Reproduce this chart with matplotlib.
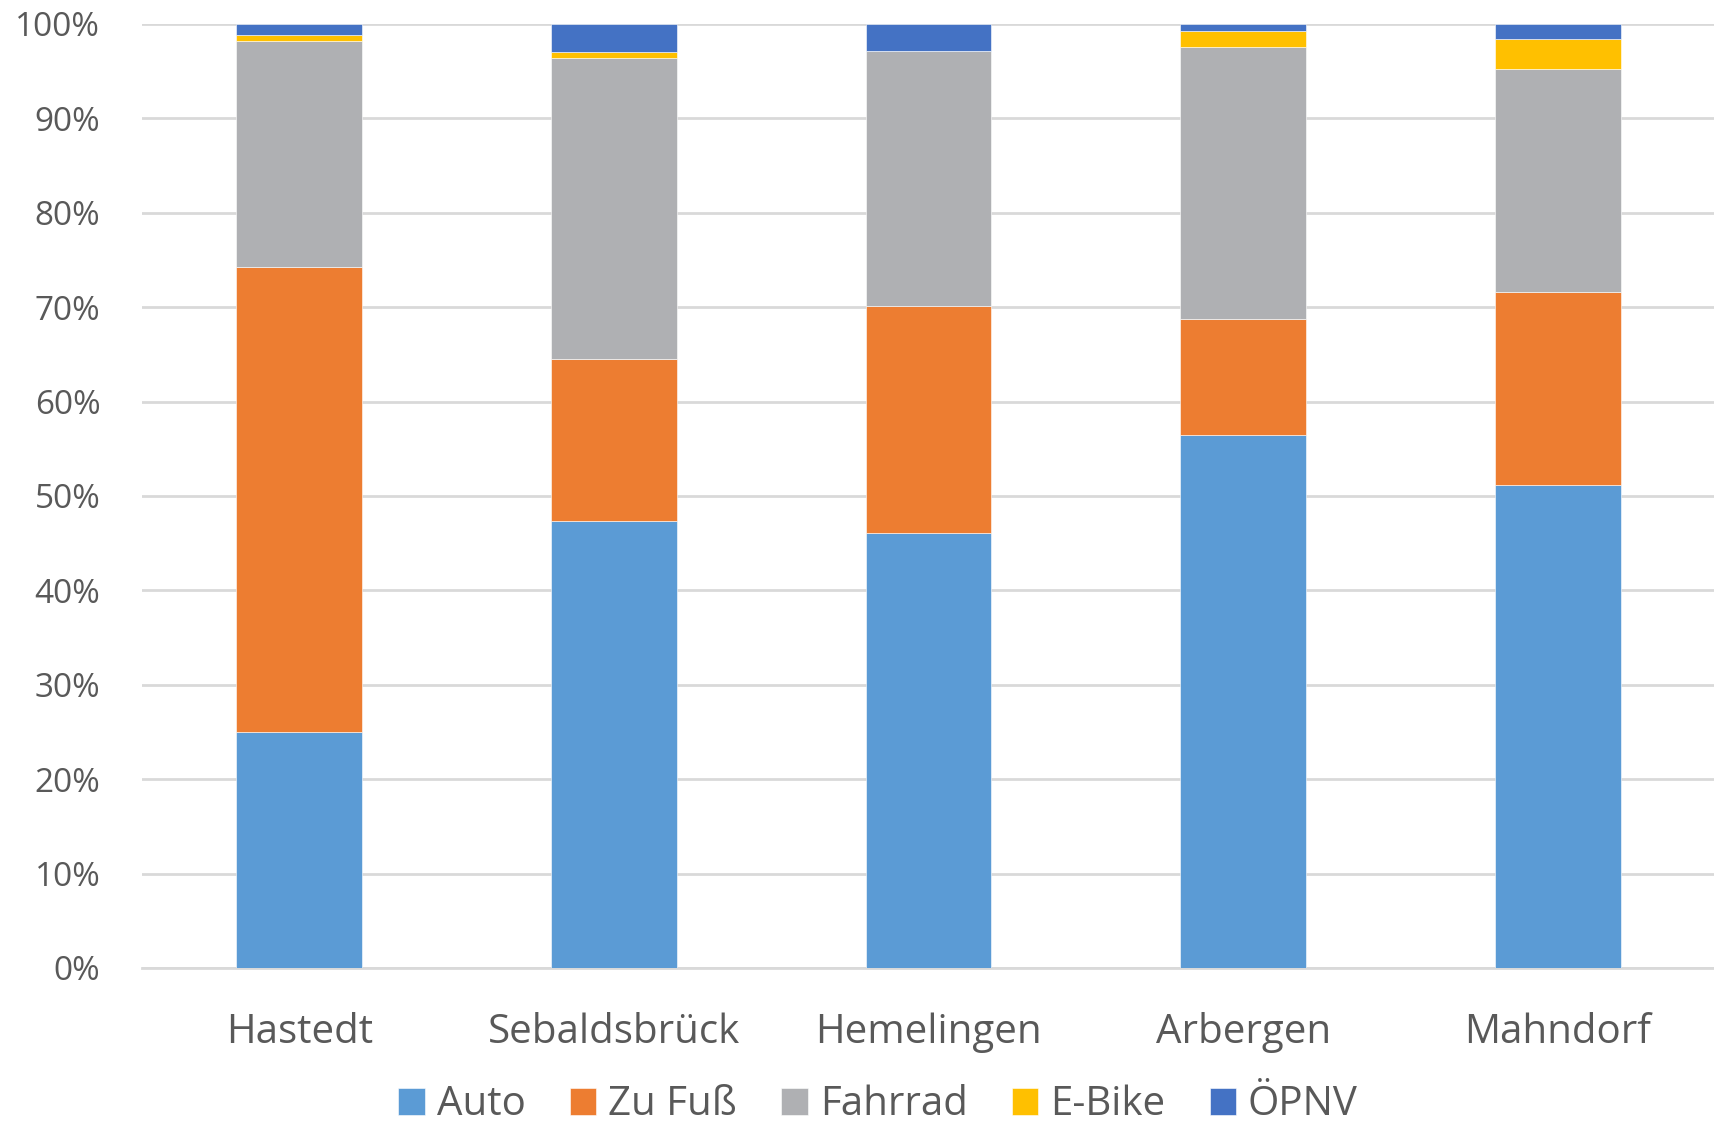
import matplotlib
matplotlib.use("Agg")
import matplotlib.pyplot as plt
import numpy as np
from matplotlib.ticker import FuncFormatter

plt.rcParams['font.family'] = ['Open Sans', 'DejaVu Sans']

districts = ["Hastedt", "Sebaldsbrück", "Hemelingen", "Arbergen", "Mahndorf"]
modes = ["Auto", "Zu Fuß", "Fahrrad", "E-Bike", "ÖPNV"]

auto = [25.0, 47.3, 46.1, 56.5, 51.2]
zu_fuss = [49.3, 17.2, 24.0, 12.2, 20.4]
fahrrad = [23.9, 31.9, 27.0, 28.9, 23.6]
e_bike = [0.6, 0.6, 0.0, 1.7, 3.2]
oepnv = [1.2, 3.0, 2.9, 0.7, 1.6]

colors = ["#5B9BD5", "#ED7D31", "#AFB0B3", "#FFC000", "#4472C4"]
text_color = "#595959"
grid_color = "#D9D9D9"

series = [auto, zu_fuss, fahrrad, e_bike, oepnv]

fig = plt.figure(figsize=(17.15, 11.30), dpi=100)
ax = fig.add_axes([142 / 1715, 1 - 968 / 1130, (1715 - 142) / 1715, (968 - 24) / 1130])

x = np.arange(len(districts))
bottom = np.zeros(len(districts))
for name, vals, col in zip(modes, series, colors):
    vals = np.array(vals, dtype=float)
    ax.bar(x, vals, width=0.4, bottom=bottom, color=col, label=name,
           edgecolor="white", linewidth=0.4, zorder=3)
    bottom += vals

ax.set_xlim(-0.5, 4.5)
ax.set_ylim(0, 100)
ax.set_yticks(np.arange(0, 101, 10))
ax.yaxis.set_major_formatter(FuncFormatter(lambda v, p: f"{int(v)}%"))
ax.set_xticks(x)
ax.set_xticklabels(districts)

ax.grid(axis="y", color=grid_color, linewidth=2, zorder=0)
ax.set_axisbelow(True)
for side in ["top", "right", "left"]:
    ax.spines[side].set_visible(False)
ax.spines["bottom"].set_color(grid_color)
ax.spines["bottom"].set_linewidth(2)

ax.tick_params(axis="y", length=0, labelsize=24, labelcolor=text_color, pad=30)
ax.tick_params(axis="x", length=0, labelsize=29, labelcolor=text_color, pad=32)

leg = fig.legend(loc="lower center", bbox_to_anchor=(0.512, -0.028), ncol=5,
                 frameon=False, fontsize=29, handlelength=0.65, handleheight=0.65,
                 handletextpad=0.3, columnspacing=1.1)
for t in leg.get_texts():
    t.set_color(text_color)

fig.savefig("out.png", dpi=100)
